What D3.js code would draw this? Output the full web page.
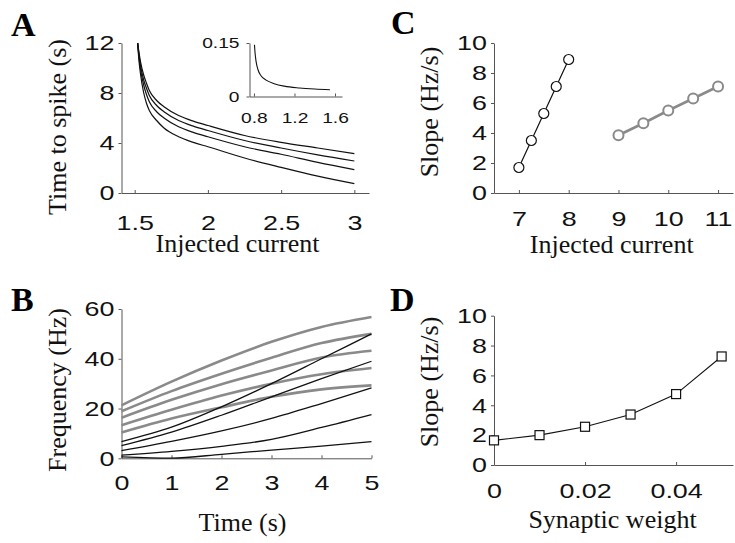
<!DOCTYPE html>
<html>
<head>
<meta charset="utf-8">
<script src="https://cdn.jsdelivr.net/npm/d3@7"></script>
<style>
  body { margin: 0; background: #fff; }
  .tick text { font-family: "Liberation Sans", Arial, sans-serif; fill: #111; }
  .domain, .tick line { stroke: #555; }
  .title { font-family: "Liberation Serif", "Times New Roman", serif; font-size: 26px; fill: #111; }
  .letter { font-family: "Liberation Serif", "Times New Roman", serif; font-size: 34px; font-weight: bold; fill: #000; }
</style>
</head>
<body>
<script>
// panel A: time to spike vs injected current (4 curves)
var aCurrent = [1.52, 1.53, 1.54, 1.56, 1.58, 1.6, 1.65, 1.7, 1.8, 1.9, 2, 2.25, 2.5, 2.75, 3];
var aTime1 = [12, 11.2, 10.5, 9.5, 8.8, 8.2, 7.4, 6.9, 6.2, 5.75, 5.4, 4.6, 4.05, 3.6, 3.15];
var aTime2 = [12, 11.0, 10.2, 9.1, 8.4, 7.8, 7.0, 6.5, 5.8, 5.35, 5.0, 4.2, 3.6, 3.05, 2.56];
var aTime3 = [12, 10.8, 9.9, 8.7, 7.9, 7.3, 6.5, 6.0, 5.3, 4.85, 4.5, 3.7, 3.1, 2.45, 1.87];
var aTime4 = [12, 10.5, 9.5, 8.1, 7.2, 6.6, 5.8, 5.2, 4.5, 4.05, 3.7, 2.8, 2.05, 1.35, 0.75];
var aXTicks = [1.5, 2, 2.5, 3];
var aYTicks = [0, 4, 8, 12];

// inset of A
var insetCurrent = [0.805, 0.81, 0.82, 0.84, 0.87, 0.92, 1.0, 1.1, 1.25, 1.4, 1.55];
var insetTime = [0.145, 0.125, 0.1, 0.075, 0.058, 0.046, 0.036, 0.029, 0.024, 0.021, 0.019];
var insetXTicks = [0.8, 1.2, 1.6];
var insetYTicks = [0, 0.15];

// panel B: frequency vs time
var bTime = [0, 1, 2, 3, 4, 5];
var bGray1 = [21.3, 30.8, 39.3, 46.8, 52.8, 56.8];
var bGray2 = [18.9, 27, 34, 40.4, 46.3, 50];
var bGray3 = [16.3, 23.5, 29.8, 35.3, 40.5, 43.2];
var bGray4 = [13.3, 19.5, 25.2, 30, 33.8, 36.3];
var bGray5 = [10.4, 16, 20.5, 24.7, 27.7, 29.3];
var bBlack1 = [6.7, 12.5, 20.7, 30, 40, 50];
var bBlack2 = [5.1, 10.5, 17.3, 24.7, 32, 39];
var bBlack3 = [3.1, 6.8, 11, 16, 22, 28.3];
var bBlack4 = [1.3, 2.8, 4.8, 7.6, 12.4, 17.6];
var bBlack5 = [0.6, 0.1, 1.6, 3.3, 4.9, 6.7];
var bXTicks = [0, 1, 2, 3, 4, 5];
var bYTicks = [0, 20, 40, 60];

// panel C: slope vs injected current
var cCurrentLow = [7, 7.25, 7.5, 7.75, 8];
var cSlopeLow = [1.7, 3.5, 5.3, 7.1, 8.9];
var cCurrentHigh = [9, 9.5, 10, 10.5, 11];
var cSlopeHigh = [3.85, 4.65, 5.5, 6.3, 7.1];
var cXTicks = [7, 8, 9, 10, 11];
var cYTicks = [0, 2, 4, 6, 8, 10];

// panel D: slope vs synaptic weight
var dWeight = [0, 0.01, 0.02, 0.03, 0.04, 0.05];
var dSlope = [1.65, 2.0, 2.56, 3.38, 4.75, 7.27];
var dXTicks = [0, 0.02, 0.04];
var dYTicks = [0, 2, 4, 6, 8, 10];

var w = 735, h = 543,
    stretch = 1.28; // tick digits in the figure are drawn wide

var svg = d3.select("body").append("svg")
    .attr("width", w)
    .attr("height", h)
    .style("display", "block");

svg.append("rect").attr("width", w).attr("height", h).attr("fill", "#fff");

function zip(xs, ys) { return xs.map(function(x, i) { return [x, ys[i]]; }); }

function axes(x, y, xTicks, yTicks, size, xPad, yPad) {
  var gx = svg.append("g")
      .attr("transform", "translate(0," + y.range()[0] + ")")
      .call(d3.axisBottom(x).tickValues(xTicks).tickFormat(String)
        .tickSizeInner(-3).tickSizeOuter(0).tickPadding(xPad));
  var gy = svg.append("g")
      .attr("transform", "translate(" + x.range()[0] + ",0)")
      .call(d3.axisLeft(y).tickValues(yTicks).tickFormat(String)
        .tickSizeInner(3).tickSizeOuter(0).tickPadding(yPad));
  [gx, gy].forEach(function(g) {
    g.attr("font-family", null).attr("font-size", null);
    g.selectAll("text")
      .style("font-size", size + "px")
      .attr("x", function() { return (+d3.select(this).attr("x") || 0) / stretch; })
      .attr("transform", "scale(" + stretch + ",1)");
  });
}

function title(text, x, y, rot) {
  svg.append("text").attr("class", "title")
    .attr("text-anchor", "middle")
    .attr("transform", "translate(" + x + "," + y + ")" + (rot ? " rotate(-90)" : ""))
    .text(text);
}

function letter(text, x, y) {
  svg.append("text").attr("class", "letter").attr("x", x).attr("y", y).text(text);
}

function curve(x, y, xs, ys, color, width) {
  var line = d3.line().x(function(d) { return x(d[0]); }).y(function(d) { return y(d[1]); })
    .curve(d3.curveMonotoneX);
  svg.append("path").datum(zip(xs, ys))
    .attr("d", line).attr("fill", "none")
    .attr("stroke", color).attr("stroke-width", width);
}

// ---- A
var xA = d3.scaleLinear().domain([1.41, 3.1]).range([121.5, 369]);
var yA = d3.scaleLinear().domain([0, 12]).range([193, 43]);
axes(xA, yA, aXTicks, aYTicks, 21, 22, 4);
[aTime1, aTime2, aTime3, aTime4].forEach(function(t) { curve(xA, yA, aCurrent, t, "#111", 1.2); });
title("Time to spike (s)", 66, 127, true);
title("Injected current", 237.5, 252);
letter("A", 11, 36);

var xIn = d3.scaleLinear().domain([0.756, 1.669]).range([249.5, 342]);
var yIn = d3.scaleLinear().domain([0, 0.15]).range([96.5, 43]);
axes(xIn, yIn, insetXTicks, insetYTicks, 15, 16, 7);
curve(xIn, yIn, insetCurrent, insetTime, "#111", 1.1);

// ---- B
var xB = d3.scaleLinear().domain([0, 5]).range([121.5, 371.5]);
var yB = d3.scaleLinear().domain([0, 60]).range([458.3, 309]);
axes(xB, yB, bXTicks, bYTicks, 21, 17, 4);
[bGray1, bGray2, bGray3, bGray4, bGray5].forEach(function(f) { curve(xB, yB, bTime, f, "#8a8a8a", 2.6); });
[bBlack1, bBlack2, bBlack3, bBlack4, bBlack5].forEach(function(f) { curve(xB, yB, bTime, f, "#111", 1.3); });
title("Frequency (Hz)", 66, 390, true);
title("Time (s)", 242.5, 531);
letter("B", 11, 311);

// ---- C
var xC = d3.scaleLinear().domain([6.5, 11.3]).range([494, 733]);
var yC = d3.scaleLinear().domain([0, 10]).range([193, 43]);
axes(xC, yC, cXTicks, cYTicks, 21, 18, 4);
function series(x, y, xs, ys, color, lw, shape) {
  var line = d3.line().x(function(d) { return x(d[0]); }).y(function(d) { return y(d[1]); });
  var pts = zip(xs, ys);
  svg.append("path").datum(pts).attr("d", line).attr("fill", "none")
    .attr("stroke", color).attr("stroke-width", lw);
  if (shape === "square") {
    svg.selectAll(null).data(pts).enter().append("rect")
      .attr("x", function(d) { return x(d[0]) - 4.5; })
      .attr("y", function(d) { return y(d[1]) - 4.5; })
      .attr("width", 9).attr("height", 9)
      .attr("fill", "#fff").attr("stroke", color).attr("stroke-width", 1.2);
  } else {
    svg.selectAll(null).data(pts).enter().append("circle")
      .attr("cx", function(d) { return x(d[0]); })
      .attr("cy", function(d) { return y(d[1]); })
      .attr("r", 5)
      .attr("fill", "#fff").attr("stroke", color).attr("stroke-width", lw > 2 ? 2 : 1.2);
  }
}
series(xC, yC, cCurrentLow, cSlopeLow, "#111", 1.2, "circle");
series(xC, yC, cCurrentHigh, cSlopeHigh, "#8a8a8a", 2.6, "circle");
title("Slope (Hz/s)", 438, 112, true);
title("Injected current", 611.7, 253);
letter("C", 391, 34);

// ---- D
var xD = d3.scaleLinear().domain([0, 0.0525]).range([494, 733]);
var yD = d3.scaleLinear().domain([0, 10]).range([465, 315.7]);
axes(xD, yD, dXTicks, dYTicks, 21, 18, 4);
series(xD, yD, dWeight, dSlope, "#111", 1.1, "square");
title("Slope (Hz/s)", 438, 382, true);
title("Synaptic weight", 612.5, 528);
letter("D", 390, 311);
</script>
</body>
</html>
